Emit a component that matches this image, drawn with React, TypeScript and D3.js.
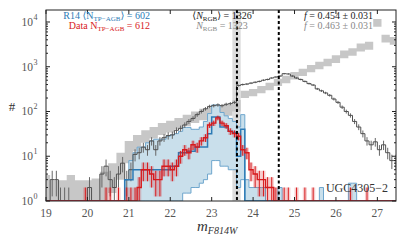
import React from 'react';
import * as d3 from 'd3';

// magnitude bins: 0.1 mag from 19.0 (85 bins)
const BIN0 = 19.0;
const BINW = 0.1;

// all stars in the field (dark grey histogram)
const allCounts = [
  0, 3, 3, 1, 1, 1, 0, 0, 0, 0,
  2, 0, 0, 4, 6, 3, 2, 4, 7, 3,
  5, 11, 12, 16, 14, 22, 14, 22, 26, 29,
  30, 38, 42, 50, 60, 70, 85, 100, 115, 130,
  135, 140, 135, 145, 150, 160, 380, 400, 410, 430,
  450, 470, 500, 520, 560, 590, 620, 700, 690, 620,
  560, 520, 470, 420, 390, 320, 290, 260, 230, 190,
  160, 125, 100, 82, 60, 45, 32, 22, 18, 21,
  14, 18, 12, 8, 8,
];

// TP-AGB stars in the data (red)
const agbData = [
  0, 0, 0, 0, 0, 0, 0, 0, 0, 1,
  0, 0, 0, 0, 1, 1, 0, 1, 0, 1,
  1, 1, 2, 5, 5, 4, 3, 3, 6, 6,
  5, 6, 10, 14, 12, 18, 16, 22, 26, 50,
  55, 72, 55, 48, 36, 32, 28, 14, 12, 5,
  4, 3, 3, 2, 2, 1, 0, 1, 1, 0,
  1, 0, 1, 0, 1, 0, 0, 0, 0, 0,
  0, 0, 0, 1, 0, 0, 0, 1, 0, 0,
  0, 0, 0, 0, 0,
];

// R14 model TP-AGB: mean and spread
const agbModel = [
  0, 0, 0, 0, 0, 0, 0, 0, 0, 0,
  0, 0, 0, 0, 0, 0, 0, 0, 0, 3,
  3, 5, 5, 5, 5, 5, 5, 5, 5, 5,
  6, 6, 12, 12, 13, 13, 16, 16, 16, 32,
  75, 75, 45, 45, 36, 34, 10, 40, 0, 0,
];
const agbModelHi = [
  0, 0, 0, 0, 0, 0, 0, 0, 0, 0,
  0, 0, 0, 0, 0, 0, 0, 0, 0, 3,
  8, 12, 16, 16, 20, 22, 24, 24, 24, 28,
  30, 32, 36, 44, 44, 40, 40, 45, 60, 90,
  140, 140, 95, 80, 70, 60, 45, 85, 3, 2,
  2, 2, 2, 0, 0, 0, 2, 0, 0, 0,
  0, 0, 0, 0, 0, 0, 2, 0, 0, 0,
  0, 0, 0, 2.5, 2.5, 0, 0, 0, 0, 0,
  0, 0, 0, 0, 0,
];
const agbModelLo = [
  0, 0, 0, 0, 0, 0, 0, 0, 0, 0,
  0, 0, 0, 0, 0, 0, 0, 0, 0, 0,
  0, 0, 0, 0, 0, 0, 0, 0, 0, 0,
  0, 0, 0, 1.5, 1.5, 2, 2, 2.5, 3, 4,
  8, 8, 6, 6, 5, 5, 2, 3, 0, 0,
];

// R14 model, all stars (grey band), 0.2 mag bins from 18.9
const BAND0 = 18.9;
const BANDW = 0.2;
const modelHi = [
  3.8, 2.9, 2.9, 3.8, 2.9, 2.9, 3.2, 4.5, 7, 12,
  22, 30, 38, 45, 55, 62, 72, 85, 100, 115,
  125, 135, 145, 180, 290, 320, 370, 440, 540, 630,
  760, 900, 1100, 1300, 1500, 1800, 2300, 2600, 3300, 3600,
  11700, 5200, 4600,
];
const modelLo = [
  0, 0, 0, 0, 0, 0, 0, 0, 1.5, 3,
  7, 13, 20, 25, 30, 34, 40, 47, 55, 64,
  70, 75, 80, 100, 200, 220, 255, 300, 370, 430,
  520, 620, 750, 880, 1020, 1220, 1550, 1750, 2200, 2400,
  7800, 3500, 3100,
];

const trgb = 23.61;
const trgbBand = [23.5, 23.7];
const faintCut = 24.62;
const xTicks = [19, 20, 21, 22, 23, 24, 25, 26, 27];
const yDecades = [0, 1, 2, 3, 4];

const W = 407;
const H = 244;
const M = { left: 46, right: 396, top: 10, bottom: 201 };
const FONT = '"Liberation Serif", "DejaVu Serif", serif';

const BLUE = '#2c7bb6';
const BLUE_EDGE = '#6ea6cd';
const BLUE_FILL = '#c9dfeb';
const RED = '#d7191c';
const DARK = '#505050';

export default function App() {
  const x = d3.scaleLinear().domain([19, 27.45]).range([M.left, M.right]);
  const y = d3.scaleLog().domain([1, Math.pow(10, 4.268)]).range([M.bottom, M.top]).clamp(true);
  const yv = (v: number) => y(Math.max(v, 0.05));

  type P = { m: number; v: number };
  const pts = (vals: number[], start: number, w: number): P[] => {
    const p = vals.map((v, i) => ({ m: start + i * w, v }));
    p.push({ m: start + vals.length * w, v: vals[vals.length - 1] });
    return p;
  };
  const line = d3.line<P>().x(d => x(d.m)).y(d => yv(d.v)).curve(d3.curveStepAfter);

  type B = { m: number; lo: number; hi: number };
  const bpts = (lo: number[], hi: number[], start: number, w: number): B[] => {
    const p = hi.map((h, i) => ({ m: start + i * w, lo: lo[i] || 0, hi: h }));
    const last = p[p.length - 1];
    p.push({ m: start + hi.length * w, lo: last.lo, hi: last.hi });
    return p;
  };
  const area = d3.area<B>().x(d => x(d.m)).y0(d => yv(d.lo)).y1(d => yv(d.hi)).curve(d3.curveStepAfter);

  const errPts = (vals: number[]) =>
    pts(vals, BIN0, BINW).map(d => ({ m: d.m, lo: d.v - Math.sqrt(d.v), hi: d.v + Math.sqrt(d.v) }));

  const errBars = (vals: number[], color: string, key: string) =>
    vals.map((v, i) =>
      v > 0 ? (
        <line key={key + i} x1={x(BIN0 + (i + 0.5) * BINW)} x2={x(BIN0 + (i + 0.5) * BINW)}
          y1={yv(v - Math.sqrt(v))} y2={yv(v + Math.sqrt(v))} stroke={color} strokeWidth={1} />
      ) : null
    );

  const minor: number[] = [];
  for (let d = 0; d < 5; d++) for (let k = 2; k < 10; k++) {
    const v = k * Math.pow(10, d);
    if (y(v) > M.top + 0.5) minor.push(v);
  }

  return (
    <svg width={W} height={H} style={{ position: 'absolute', left: 0, top: 0, fontFamily: FONT }}>
      <defs>
        <clipPath id="plot">
          <rect x={M.left} y={M.top} width={M.right - M.left} height={M.bottom - M.top} />
        </clipPath>
      </defs>
      <rect width={W} height={H} fill="#fff" />
      <g clipPath="url(#plot)">
        <rect x={x(trgbBand[0])} width={x(trgbBand[1]) - x(trgbBand[0])} y={M.top} height={M.bottom - M.top} fill="#dcdcdc" />
        <path d={area(bpts(modelLo, modelHi, BAND0, BANDW)) || ''} fill="#c7c7c7" />
        <path d={area(bpts(agbModelLo, agbModelHi, BIN0, BINW)) || ''} fill={BLUE_FILL} />
        <path d={line(pts(agbModelHi, BIN0, BINW)) || ''} fill="none" stroke={BLUE_EDGE} strokeWidth={1} />
        <path d={line(pts(agbModelLo.concat(new Array(35).fill(0)), BIN0, BINW)) || ''} fill="none" stroke={BLUE_EDGE} strokeWidth={1} />
        {errBars(allCounts, '#666', 'ea')}
        <path d={line(pts(allCounts, BIN0, BINW)) || ''} fill="none" stroke={DARK} strokeWidth={1} />
        <path d={line(pts(agbModel.concat(new Array(35).fill(0)), BIN0, BINW)) || ''} fill="none" stroke={BLUE} strokeWidth={1.5} />
        <path d={area(errPts(agbData)) || ''} fill={RED} fillOpacity={0.22} />
        {errBars(agbData, RED, 'er')}
        <path d={line(pts(agbData, BIN0, BINW)) || ''} fill="none" stroke={RED} strokeWidth={1.4} />
        <line x1={x(trgb)} x2={x(trgb)} y1={M.top} y2={M.bottom} stroke="#000" strokeWidth={2} strokeDasharray="3,2.5" />
        <line x1={x(faintCut)} x2={x(faintCut)} y1={M.top} y2={M.bottom} stroke="#000" strokeWidth={2} strokeDasharray="3,2.5" />
      </g>

      {/* frame and ticks */}
      <rect x={M.left} y={M.top} width={M.right - M.left} height={M.bottom - M.top} fill="none" stroke="#222" strokeWidth={1} />
      {xTicks.map(t => (
        <g key={'xt' + t}>
          <line x1={x(t)} x2={x(t)} y1={M.bottom} y2={M.bottom - 4} stroke="#222" />
          <line x1={x(t)} x2={x(t)} y1={M.top} y2={M.top + 4} stroke="#222" />
          <text x={x(t)} y={217} textAnchor="middle" fontSize={11.5} fill="#555">{t}</text>
        </g>
      ))}
      {yDecades.map(d => (
        <g key={'yt' + d}>
          <line x1={M.left} x2={M.left + 4} y1={y(Math.pow(10, d))} y2={y(Math.pow(10, d))} stroke="#222" />
          <line x1={M.right} x2={M.right - 4} y1={y(Math.pow(10, d))} y2={y(Math.pow(10, d))} stroke="#222" />
          <text x={33} y={y(Math.pow(10, d)) + 4} textAnchor="end" fontSize={11.5} fill="#555">10</text>
          <text x={33.5} y={y(Math.pow(10, d)) - 2} fontSize={8} fill="#555">{d}</text>
        </g>
      ))}
      {minor.map(v => (
        <g key={'ym' + v}>
          <line x1={M.left} x2={M.left + 2} y1={y(v)} y2={y(v)} stroke="#222" />
          <line x1={M.right} x2={M.right - 2} y1={y(v)} y2={y(v)} stroke="#222" />
        </g>
      ))}

      {/* labels */}
      <text x={12} y={111} textAnchor="middle" fontSize={13} fill="#333">#</text>
      <text x={197} y={231} fontSize={15} fontStyle="italic" fill="#333">m<tspan fontSize={10} dy={3}>F814W</tspan></text>

      <text x={150} y={19} textAnchor="end" fontSize={10} fill={BLUE}>
        R14 ⟨N<tspan fontSize={7} dy={2}>TP−AGB</tspan><tspan dy={-2}>⟩ = 602</tspan>
      </text>
      <text x={150} y={29} textAnchor="end" fontSize={10} fill={RED}>
        Data N<tspan fontSize={7} dy={2}>TP−AGB</tspan><tspan dy={-2}> = 612</tspan>
      </text>
      <text x={222} y={19} textAnchor="middle" fontSize={10} fill="#222">
        ⟨<tspan fontStyle="italic">N</tspan><tspan fontSize={7} dy={2}>RGB</tspan><tspan dy={-2}>⟩ = 1326</tspan>
      </text>
      <text x={222} y={29} textAnchor="middle" fontSize={10} fill="#888">
        <tspan fontStyle="italic">N</tspan><tspan fontSize={7} dy={2}>RGB</tspan><tspan dy={-2}> = 1323</tspan>
      </text>
      <text x={373} y={19} textAnchor="end" fontSize={10} fill="#222">
        <tspan fontStyle="italic">f</tspan> = 0.454 ± 0.031
      </text>
      <text x={373} y={29} textAnchor="end" fontSize={10} fill="#888">
        <tspan fontStyle="italic">f</tspan> = 0.463 ± 0.031
      </text>
      <text x={388} y={192} textAnchor="end" fontSize={12} fill="#333">UGC4305−2</text>
    </svg>
  );
}
